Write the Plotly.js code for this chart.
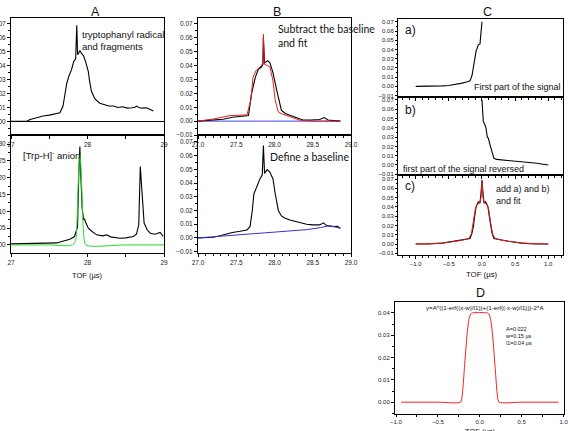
<!DOCTYPE html>
<html><head><meta charset="utf-8">
<script src="https://cdn.plot.ly/plotly-3.0.1.min.js"></script>
<style>html,body{margin:0;padding:0;background:#fff;overflow:hidden}#chart{width:568px;height:431px}</style>
</head><body><div id="chart"></div>
<script>
// ---- Panel A (top): raw spectrum ----
const aTopX = [27.00,27.10,27.20,27.25,27.32,27.42,27.50,27.58,27.64,27.68,27.71,27.73,27.76,27.79,27.82,27.845,27.86,27.87,27.885,27.90,27.92,27.95,27.98,28.01,28.03,28.05,28.08,28.10,28.16,28.22,28.28,28.34,28.40,28.46,28.52,28.58,28.62,28.64,28.68,28.72,28.77,28.82,28.86];
const aTopY = [0.000,0.000,0.000,0.0014,0.0026,0.0038,0.0045,0.0052,0.0062,0.011,0.020,0.0276,0.033,0.037,0.043,0.045,0.069,0.048,0.049,0.051,0.049,0.047,0.042,0.036,0.028,0.022,0.018,0.016,0.013,0.012,0.011,0.011,0.010,0.0105,0.0095,0.0098,0.0102,0.011,0.0098,0.0095,0.0098,0.0085,0.0074];
// ---- Panel A (bottom): [Trp-H]- anion ----
const aBotX = [27.00,27.20,27.40,27.60,27.64,27.70,27.77,27.83,27.87,27.885,27.90,27.915,27.93,27.95,27.96,27.98,28.01,28.06,28.12,28.20,28.25,28.30,28.36,28.42,28.50,28.56,28.60,28.64,28.67,28.69,28.71,28.74,28.78,28.82,28.88,28.95,28.99];
const aBotY = [0.0003,0.0004,0.0003,0.0006,0.0009,0.0012,0.0017,0.0025,0.0054,0.0200,0.0293,0.0193,0.0110,0.0074,0.0078,0.0065,0.0050,0.0040,0.0030,0.0027,0.0030,0.0024,0.0023,0.0020,0.0021,0.0023,0.0025,0.0032,0.0060,0.0233,0.0164,0.0065,0.0045,0.0035,0.0032,0.0037,0.0025];
const aGreenX = [27.00,27.50,27.80,27.84,27.86,27.88,27.90,27.92,27.94,27.96,27.98,28.50,29.00];
const aGreenY = [0.0000,0.0000,0.0000,0.0010,0.0060,0.0190,0.0268,0.0200,0.0070,0.0012,0.0000,0.0000,0.0000];
// ---- Panel B (top): baseline subtracted + fit ----
const bTopX = [27.00,27.15,27.33,27.45,27.55,27.66,27.70,27.75,27.79,27.83,27.85,27.855,27.87,27.91,27.94,27.98,28.03,28.09,28.14,28.20,28.30,28.38,28.48,28.59,28.65,28.70,28.77,28.86];
const bTopY = [0.0000,0.0005,0.0014,0.0028,0.0036,0.0040,0.0198,0.0317,0.0376,0.0390,0.0410,0.0600,0.0420,0.0436,0.0420,0.0350,0.0220,0.0079,0.0055,0.0043,0.0020,0.0007,0.0008,0.0012,0.0026,0.0008,0.0005,0.0000];
const bFitX = [27.00,27.20,27.42,27.55,27.64,27.69,27.72,27.76,27.79,27.83,27.845,27.855,27.865,27.87,27.91,27.94,27.98,28.01,28.05,28.10,28.16,28.25,28.33,28.50,28.86];
const bFitY = [0.0000,0.0015,0.0040,0.0045,0.0045,0.0150,0.0317,0.0365,0.0380,0.0400,0.0420,0.0626,0.0420,0.0410,0.0400,0.0390,0.0290,0.0150,0.0066,0.0050,0.0040,0.0020,0.0007,0.0000,0.0000];
const bZeroX = [27.00,28.86];
const bZeroY = [0,0];
// ---- Panel B (bottom): define a baseline ----
const bBotX = [27.00,27.10,27.20,27.30,27.375,27.45,27.55,27.64,27.68,27.71,27.73,27.76,27.78,27.81,27.84,27.855,27.87,27.89,27.905,27.94,27.98,28.01,28.05,28.09,28.14,28.20,28.29,28.35,28.42,28.50,28.59,28.64,28.68,28.72,28.77,28.82,28.86];
const bBotY = [0.0000,0.0002,0.0005,0.0018,0.0030,0.0040,0.0048,0.0058,0.0082,0.020,0.032,0.036,0.0396,0.043,0.046,0.0674,0.047,0.049,0.0498,0.048,0.043,0.032,0.020,0.016,0.0143,0.013,0.0118,0.0110,0.0099,0.0095,0.0095,0.011,0.0090,0.0088,0.0082,0.0085,0.0070];
const bBaseX = [27.00,27.20,27.60,28.00,28.42,28.60,28.70,28.78,28.86];
const bBaseY = [0.0000,0.0008,0.0025,0.0042,0.0060,0.0075,0.0087,0.0082,0.0070];
// ---- Panel C ----
const cAX = [-1.00,-0.90,-0.80,-0.70,-0.60,-0.50,-0.40,-0.30,-0.22,-0.18,-0.15,-0.13,-0.11,-0.09,-0.07,-0.056,-0.03,-0.015,-0.005,0.00];
const cAY = [0.0000,0.0000,-0.0002,0.0000,0.0005,0.0010,0.0020,0.0035,0.0050,0.0060,0.0120,0.0215,0.0300,0.0380,0.0420,0.0450,0.0460,0.0560,0.0650,0.0700];
const cBX = [0.00,0.005,0.02,0.045,0.06,0.08,0.096,0.12,0.147,0.18,0.22,0.32,0.45,0.58,0.70,0.83,0.92,1.00];
const cBY = [0.0700,0.0600,0.0466,0.0430,0.0400,0.0300,0.0287,0.0220,0.0160,0.0072,0.0060,0.0054,0.0045,0.0036,0.0025,0.0018,0.0008,0.0000];
const cCX = [-1.00,-0.80,-0.60,-0.40,-0.25,-0.18,-0.15,-0.13,-0.11,-0.09,-0.056,-0.03,-0.015,0.00,0.015,0.03,0.056,0.09,0.11,0.13,0.15,0.18,0.25,0.40,0.60,0.80,1.00];
const cCY = [0.0000,0.0000,0.0010,0.0030,0.0050,0.0060,0.0120,0.0186,0.0300,0.0400,0.0455,0.0440,0.0550,0.0690,0.0550,0.0440,0.0455,0.0400,0.0300,0.0186,0.0120,0.0060,0.0050,0.0030,0.0010,0.0000,0.0000];
const cFitX = [-1.00,-0.60,-0.30,-0.20,-0.16,-0.13,-0.10,-0.07,-0.04,-0.015,0.00,0.015,0.04,0.07,0.10,0.13,0.16,0.20,0.30,0.60,1.00];
const cFitY = [0.0000,0.0010,0.0040,0.0060,0.0110,0.0230,0.0380,0.0430,0.0440,0.0500,0.0660,0.0500,0.0440,0.0430,0.0380,0.0230,0.0110,0.0060,0.0040,0.0010,0.0000];
// ---- Panel D: model function ----
const dX = [-0.94,-0.50,-0.23,-0.21,-0.19,-0.17,-0.15,-0.13,-0.11,-0.09,0.09,0.11,0.13,0.15,0.17,0.19,0.21,0.23,0.50,0.94];
const dY = [0,0,0,0.003,0.012,0.022,0.031,0.037,0.0395,0.040,0.040,0.0395,0.037,0.031,0.022,0.012,0.003,0,0,0];

const W = 568, H = 431;
const fx = p => p / W, fy = p => 1 - p / H;

const tickFont = {family: 'Liberation Sans, Arial, sans-serif', size: 6.5, color: '#222'};
function ax(extra) {
  return Object.assign({
    showline: true, mirror: true, linecolor: '#000', linewidth: 1,
    ticks: 'outside', ticklen: 3, tickcolor: '#000', tickwidth: 1,
    showgrid: false, zeroline: false, tickfont: tickFont, fixedrange: true,
    ticklabeloverflow: 'allow'
  }, extra);
}
const blk = {color: '#000', width: 1.1};
const traces = [
  {x: aTopX, y: aTopY, xaxis: 'x', yaxis: 'y', mode: 'lines', line: blk},
  {x: aBotX, y: aBotY, xaxis: 'x2', yaxis: 'y2', mode: 'lines', line: blk},
  {x: aGreenX, y: aGreenY, xaxis: 'x2', yaxis: 'y2', mode: 'lines', line: {color: '#22dd22', width: 1, shape: 'spline'}},
  {x: bZeroX, y: bZeroY, xaxis: 'x3', yaxis: 'y3', mode: 'lines', line: {color: '#4444ee', width: 1}},
  {x: bTopX, y: bTopY, xaxis: 'x3', yaxis: 'y3', mode: 'lines', line: blk},
  {x: bFitX, y: bFitY, xaxis: 'x3', yaxis: 'y3', mode: 'lines', line: {color: '#e02020', width: 1}},
  {x: bBotX, y: bBotY, xaxis: 'x4', yaxis: 'y4', mode: 'lines', line: blk},
  {x: bBaseX, y: bBaseY, xaxis: 'x4', yaxis: 'y4', mode: 'lines', line: {color: '#3333cc', width: 1}},
  {x: cAX, y: cAY, xaxis: 'x5', yaxis: 'y5', mode: 'lines', line: blk},
  {x: cBX, y: cBY, xaxis: 'x6', yaxis: 'y6', mode: 'lines', line: blk},
  {x: cCX, y: cCY, xaxis: 'x7', yaxis: 'y7', mode: 'lines', line: blk},
  {x: cFitX, y: cFitY, xaxis: 'x7', yaxis: 'y7', mode: 'lines', line: {color: '#e02020', width: 1}},
  {x: dX, y: dY, xaxis: 'x8', yaxis: 'y8', mode: 'lines', line: {color: '#ee2222', width: 1, shape: 'spline', smoothing: 0.6}}
];

const Ax = [fx(11), fx(164)], Bx = [fx(198), fx(351)], Cx = [fx(398), fx(563)], Dx = [fx(395), fx(564)];
const topY = [fy(135), fy(18)], botY = [fy(253), fy(135)];
const smallFont = {family: 'Liberation Sans, Arial, sans-serif', size: 6, color: '#222'};

const layout = {
  width: W, height: H, margin: {l: 0, r: 0, t: 0, b: 0},
  paper_bgcolor: '#fff', plot_bgcolor: 'rgba(0,0,0,0)', showlegend: false,
  xaxis: ax({domain: Ax, anchor: 'y', range: [27, 29], dtick: 1, tickformat: 'd', minor: {dtick: 0.5, ticks: 'outside', ticklen: 3}}),
  yaxis: ax({domain: topY, anchor: 'x', range: [-0.0098, 0.0743], dtick: 0.01, tickformat: '.2f', zeroline: true, zerolinecolor: '#000', zerolinewidth: 1, minor: {dtick: 0.005, ticks: 'outside', ticklen: 2}}),
  xaxis2: ax({domain: Ax, anchor: 'y2', range: [27, 29], dtick: 1, tickformat: 'd', minor: {dtick: 0.5, ticks: 'outside', ticklen: 3}}),
  yaxis2: ax({domain: botY, anchor: 'x2', range: [-0.0024, 0.0327], dtick: 0.005, tickformat: '.3f', minor: {dtick: 0.0025, ticks: 'outside', ticklen: 2}}),
  xaxis3: ax({domain: Bx, anchor: 'y3', range: [27, 29], dtick: 0.5, tickformat: '.1f', minor: {dtick: 0.1, ticks: 'outside', ticklen: 2}}),
  yaxis3: ax({domain: topY, anchor: 'x3', range: [-0.0100, 0.0743], dtick: 0.01, tickformat: '.2f', minor: {dtick: 0.005, ticks: 'outside', ticklen: 2}}),
  xaxis4: ax({domain: Bx, anchor: 'y4', range: [27, 29], dtick: 0.5, tickformat: '.1f', minor: {dtick: 0.1, ticks: 'outside', ticklen: 2}}),
  yaxis4: ax({domain: botY, anchor: 'x4', range: [-0.011, 0.075], dtick: 0.01, tickformat: '.2f', minor: {dtick: 0.005, ticks: 'outside', ticklen: 2}}),
  xaxis5: ax({domain: Cx, anchor: 'y5', range: [-1.267, 1.222], dtick: 0.5, showticklabels: false, minor: {dtick: 0.1, ticks: 'outside', ticklen: 2}}),
  yaxis5: ax({domain: [fy(97), fy(19)], anchor: 'x5', range: [-0.0115, 0.073], dtick: 0.01, tickformat: '.2f', tickfont: smallFont, ticklen: 2, minor: {dtick: 0.005, ticks: 'outside', ticklen: 1.5}}),
  xaxis6: ax({domain: Cx, anchor: 'y6', range: [-1.267, 1.222], dtick: 0.5, showticklabels: false, minor: {dtick: 0.1, ticks: 'outside', ticklen: 2}}),
  yaxis6: ax({domain: [fy(175), fy(97)], anchor: 'x6', range: [-0.0108, 0.0732], dtick: 0.01, tickformat: '.2f', tickfont: smallFont, ticklen: 2, minor: {dtick: 0.005, ticks: 'outside', ticklen: 1.5}}),
  xaxis7: ax({domain: Cx, anchor: 'y7', range: [-1.267, 1.222], dtick: 0.5, tickformat: '.1f', tickfont: smallFont, minor: {dtick: 0.1, ticks: 'outside', ticklen: 2}}),
  yaxis7: ax({domain: [fy(255), fy(175)], anchor: 'x7', range: [-0.0118, 0.0743], dtick: 0.01, tickformat: '.2f', tickfont: smallFont, ticklen: 2, minor: {dtick: 0.005, ticks: 'outside', ticklen: 1.5}}),
  xaxis8: ax({domain: Dx, anchor: 'y8', range: [-1.012, 1.005], dtick: 0.5, tickformat: '.1f', tickfont: smallFont, ticklen: 2, ticklabelstandoff: 0, minor: {dtick: 0.25, ticks: 'outside', ticklen: 1.5}}),
  yaxis8: ax({domain: [fy(414), fy(302)], anchor: 'x8', range: [-0.0053, 0.0449], dtick: 0.01, tickformat: '.2f', tickfont: smallFont, minor: {dtick: 0.005, ticks: 'outside', ticklen: 2}}),
  annotations: []
};

function note(text, px, py, size, opts) {
  layout.annotations.push(Object.assign({
    text: text, x: fx(px), y: fy(py), xref: 'paper', yref: 'paper', showarrow: false,
    xanchor: 'center', yanchor: 'middle',
    font: {family: 'Liberation Sans, Arial, sans-serif', size: size, color: '#111'}
  }, opts || {}));
}
const calibri = {family: 'Lato, Open Sans, sans-serif', size: 10.5, color: '#111'};
note('A', 95, 12, 12.5);
note('B', 277, 12, 12.5);
note('C', 487, 12, 12.5);
note('D', 480, 293, 12.5);
note('TOF (µs)', 87, 275, 7.5);
note('TOF (µs)', 482, 274, 7.8);
note('TOF (µs)', 480, 431, 7.5, {yanchor: 'top', yshift: 6});
note('tryptophanyl radical<br>and fragments', 80, 40, 9.5, {xanchor: 'left', align: 'left'});
note('[Trp-H]<sup>-</sup> anion', 21, 155, 9.5, {xanchor: 'left', align: 'left'});
note('Subtract the baseline<br>and fit', 276, 36, 10.5, {xanchor: 'left', align: 'left', font: calibri});
note('Define a baseline', 268, 157, 10.5, {xanchor: 'left', align: 'left', font: calibri});
note('a)', 403, 30, 12, {xanchor: 'left'});
note('b)', 403, 110, 12, {xanchor: 'left'});
note('c)', 403, 186, 12, {xanchor: 'left'});
note('First part of the signal', 563, 87, 9, {xanchor: 'right'});
note('first part of the signal reversed', 401, 169, 9, {xanchor: 'left'});
note('add a) and b)<br>and fit', 494, 195, 9, {xanchor: 'left', align: 'left'});
note('y=A*((1-erf((x-w)/l1))+(1-erf((-x-w)/l1)))-2*A', 485, 307, 6.2);
note('A=0.022<br>w=0.15 µs<br>l1=0.04 µs', 503, 336, 5.5, {xanchor: 'left', align: 'left'});

Plotly.newPlot('chart', traces, layout, {staticPlot: true, displayModeBar: false});
</script></body></html>
